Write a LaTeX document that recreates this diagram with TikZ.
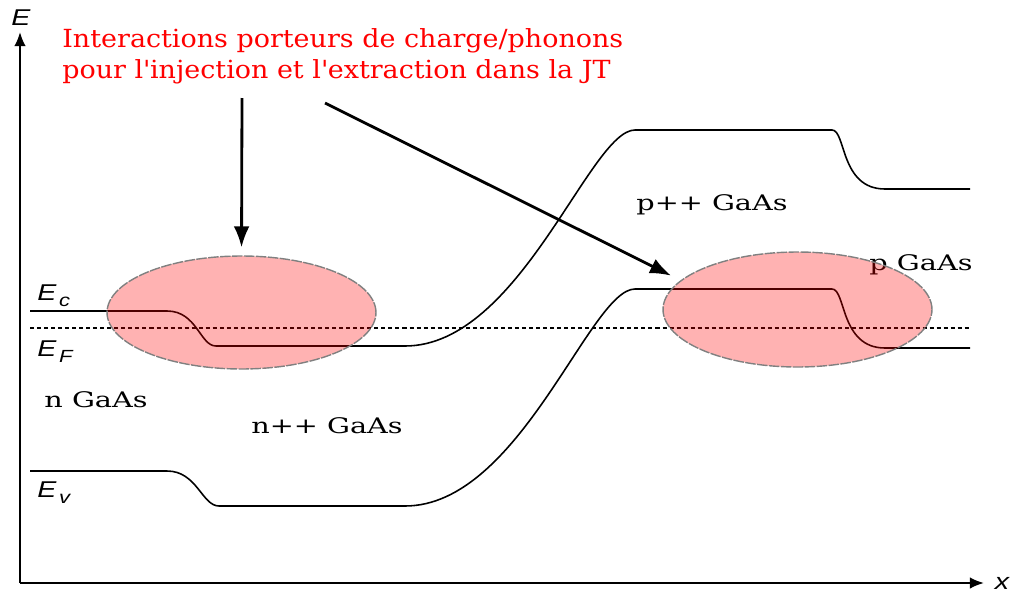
\documentclass[tikz,border=0pt]{standalone}
\usepackage{fontspec}
\usetikzlibrary{arrows.meta,shapes.geometric}
\newfontfamily\regionfont{DejaVu Serif}[FakeStretch=1.34]
\newfontfamily\notefont{DejaVu Serif}[FakeStretch=1.08]
\newfontfamily\bandfont{Liberation Sans}[FakeStretch=1.25]
\newcommand\level[2]{{\bandfont\itshape #1\kern1.5pt\raisebox{-3.5pt}{\fontsize{10}{11}\selectfont #2}}}
\begin{document}
\begin{tikzpicture}[x=0.02cm, y=-0.02cm,
  band/.style={line width=0.9pt},
  fermi/.style={line width=0.8pt, dash pattern=on 2.3pt off 1.7pt},
  axis/.style={line width=1.1pt, -{Latex[length=8pt,width=6.5pt]}},
  pointer/.style={line width=1.6pt, -{Latex[length=12pt,width=9pt]}},
  region/.style={inner sep=0pt, anchor=base, font=\regionfont\fontsize{12.2}{14}\selectfont},
  levelname/.style={inner sep=0pt, anchor=base west, font=\bandfont\fontsize{13}{15}\selectfont},
  note/.style={inner sep=0pt, anchor=north west, align=left, text=red, font=\notefont\fontsize{14.2}{17.6}\selectfont},
  zone/.style={ellipse, inner sep=0pt, fill=red, fill opacity=0.3, draw=gray, draw opacity=1, line width=0.8pt, dash pattern=on 6pt off 0.8pt}]
	\useasboundingbox (0,0) rectangle (1011,592);
	\coordinate (origin) at (20,583);
	\coordinate (etip) at (20,32);
	\coordinate (xtip) at (984,583);
	\draw[axis] (origin) -- (etip);
	\draw[axis] (origin) -- (xtip);
	\node[levelname, anchor=base] (eaxis) at (21,25) {\itshape E};
	\node[levelname, anchor=base] (xaxis) at (1002,589) {\itshape x};
	\draw[band] (30,311) -- (167,311) .. controls (197,311) and (200,346) .. (216,346) -- (405,346) .. controls (520,346) and (590,130) .. (635,130) -- (832,130) .. controls (846,130) and (840,189) .. (885,189) -- (970,189);
	\draw[band] (30,471) -- (167,471) .. controls (197,471) and (202,506) .. (219,506) -- (405,506) .. controls (520,506) and (590,289) .. (635,289) -- (832,289) .. controls (846,289) and (840,348) .. (885,348) -- (970,348);
	\draw[fermi] (30,328) -- (970,328);
	\node[levelname] (ec) at (37,300) {\level{E}{c}};
	\node[levelname] (ef) at (37,356) {\level{E}{F}};
	\node[levelname] (ev) at (37,497) {\level{E}{v}};
	\node[region] (ngaas) at (96,407) {n GaAs};
	\node[region] (nppgaas) at (327,433) {n++ GaAs};
	\node[region] (pppgaas) at (712,210) {p++ GaAs};
	\node[region] (pgaas) at (921,270) {p GaAs};
	\node[zone, minimum width=5.38cm, minimum height=2.26cm] (lzone) at (241.5,312.5) {};
	\node[zone, minimum width=5.38cm, minimum height=2.3cm] (rzone) at (797.5,309.5) {};
	\node[note] (note) at (62,28) {Interactions porteurs de charge/phonons\\pour l\textquotesingle injection et l\textquotesingle extraction dans la JT};
	\coordinate (tailA) at (242,98);
	\coordinate (tailB) at (325,103);
	\draw[pointer, shorten >=4.5pt] (tailA) -- (lzone.north);
	\draw[pointer, shorten >=6pt] (tailB) -- (rzone.166);
\end{tikzpicture}
\end{document}
